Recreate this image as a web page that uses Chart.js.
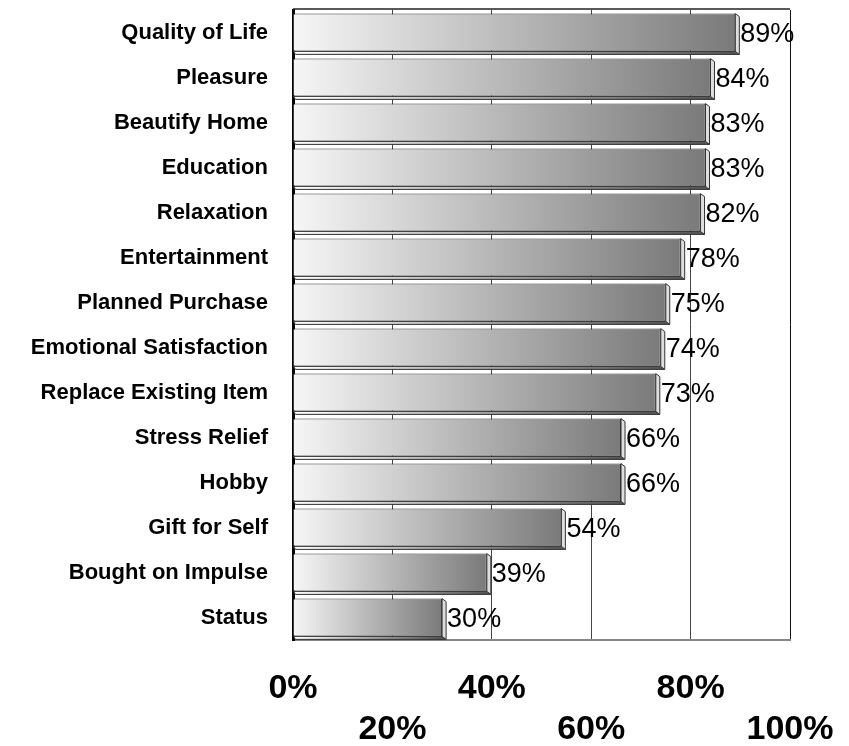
<!DOCTYPE html>
<html>
<head>
<meta charset="utf-8">
<script src="https://cdn.jsdelivr.net/npm/chart.js@4.4.1/dist/chart.umd.min.js"></script>
<style>
  html, body { margin: 0; padding: 0; background: #ffffff; }
  #wrap { width: 849px; height: 746px; }
</style>
</head>
<body>
<div id="wrap"><canvas id="reasonsChart" width="849" height="746"></canvas></div>
<script>
// data
const categories = [
    'Quality of Life', 'Pleasure', 'Beautify Home', 'Education', 'Relaxation',
    'Entertainment', 'Planned Purchase', 'Emotional Satisfaction', 'Replace Existing Item',
    'Stress Relief', 'Hobby', 'Gift for Self', 'Bought on Impulse', 'Status'
];
const percentValues = [89, 84, 83, 83, 82, 78, 75, 74, 73, 66, 66, 54, 39, 30];
const axisTicks = [0, 20, 40, 60, 80, 100];

const fontFamily = "'Liberation Sans', Arial, sans-serif";
const depthX = 4;
const depthY = 3;

// gradient across each bar, light on the left, dark at the end
function barGradient(context) {
    const chart = context.chart;
    const area = chart.chartArea;
    if (!area) return '#bbbbbb';
    const xScale = chart.scales.x;
    const v = context.raw || 0;
    const x0 = xScale.getPixelForValue(0);
    const x1 = xScale.getPixelForValue(v);
    const g = chart.ctx.createLinearGradient(x0, 0, x1, 0);
    g.addColorStop(0, '#f6f6f6');
    g.addColorStop(1, '#7a7a7a');
    return g;
}

// fake 3D faces + value labels
const bar3dPlugin = {
    id: 'bar3d',
    afterDatasetsDraw(chart) {
        const ctx = chart.ctx;
        const meta = chart.getDatasetMeta(0);
        ctx.save();
        meta.data.forEach((bar, i) => {
            const p = bar.getProps(['x', 'y', 'base', 'height'], true);
            const top = p.y - p.height / 2;
            const bottom = p.y + p.height / 2;

            // bottom face
            ctx.beginPath();
            ctx.moveTo(p.base, bottom);
            ctx.lineTo(p.x, bottom);
            ctx.lineTo(p.x + depthX, bottom + depthY);
            ctx.lineTo(p.base + 2, bottom + depthY);
            ctx.closePath();
            const gb = ctx.createLinearGradient(p.base, 0, p.x, 0);
            gb.addColorStop(0, '#ffffff');
            gb.addColorStop(1, '#555555');
            ctx.fillStyle = gb;
            ctx.fill();
            ctx.lineWidth = 1;
            ctx.strokeStyle = '#333333';
            ctx.stroke();

            // side face
            ctx.beginPath();
            ctx.moveTo(p.x, top);
            ctx.lineTo(p.x + depthX, top + depthY);
            ctx.lineTo(p.x + depthX, bottom + depthY);
            ctx.lineTo(p.x, bottom);
            ctx.closePath();
            ctx.fillStyle = '#dedede';
            ctx.fill();
            ctx.strokeStyle = '#333333';
            ctx.stroke();

            // value label
            ctx.fillStyle = '#000000';
            ctx.font = '27px ' + fontFamily;
            ctx.textAlign = 'left';
            ctx.textBaseline = 'middle';
            ctx.fillText(percentValues[i] + '%', p.x + depthX + 1, p.y + 2);
        });

        // top edge of the plot wall
        const a = chart.chartArea;
        ctx.beginPath();
        ctx.moveTo(a.left, a.top - 1);
        ctx.lineTo(a.right, a.top - 1);
        ctx.strokeStyle = '#222222';
        ctx.lineWidth = 1.5;
        ctx.stroke();
        ctx.restore();
    }
};

const ctx = document.getElementById('reasonsChart').getContext('2d');

new Chart(ctx, {
    type: 'bar',
    data: {
        labels: categories,
        datasets: [{
            data: percentValues,
            backgroundColor: barGradient,
            borderColor: '#333333',
            borderWidth: 1,
            barPercentage: 0.84,
            categoryPercentage: 1.0
        }]
    },
    options: {
        indexAxis: 'y',
        responsive: false,
        animation: false,
        layout: { padding: { top: 10, right: 59, left: 0, bottom: 0 } },
        plugins: {
            legend: { display: false },
            tooltip: { enabled: false }
        },
        scales: {
            x: {
                min: 0,
                max: 100,
                afterBuildTicks: (scale) => {
                    scale.ticks = axisTicks.map(v => ({ value: v }));
                },
                afterFit: (scale) => {
                    scale.height = 106;
                    scale.paddingLeft = 0;
                    scale.paddingRight = 0;
                },
                grid: {
                    drawTicks: false,
                    lineWidth: 1,
                    color: (c) => {
                        if (c.index === 0) return 'rgba(0,0,0,0)';
                        if (c.index === axisTicks.length - 1) return '#111111';
                        return '#444444';
                    }
                },
                border: { display: true, color: '#888888', width: 2 },
                ticks: {
                    autoSkip: false,
                    maxRotation: 0,
                    padding: 28,
                    color: '#000000',
                    font: { family: fontFamily, size: 34, weight: 'bold', lineHeight: 1.2 },
                    // staggered two-row labels
                    callback: function(value, index) {
                        const txt = value + '%';
                        return index % 2 === 0 ? [txt, ''] : ['', txt];
                    }
                }
            },
            y: {
                afterFit: (scale) => {
                    scale.width = 293;
                    scale.paddingTop = 0;
                    scale.paddingBottom = 0;
                },
                grid: { display: false, drawTicks: false },
                border: { display: true, color: '#000000', width: 3 },
                ticks: {
                    padding: 25,
                    color: '#000000',
                    font: { family: fontFamily, size: 22, weight: 'bold' }
                }
            }
        }
    },
    plugins: [bar3dPlugin]
});
</script>
</body>
</html>
